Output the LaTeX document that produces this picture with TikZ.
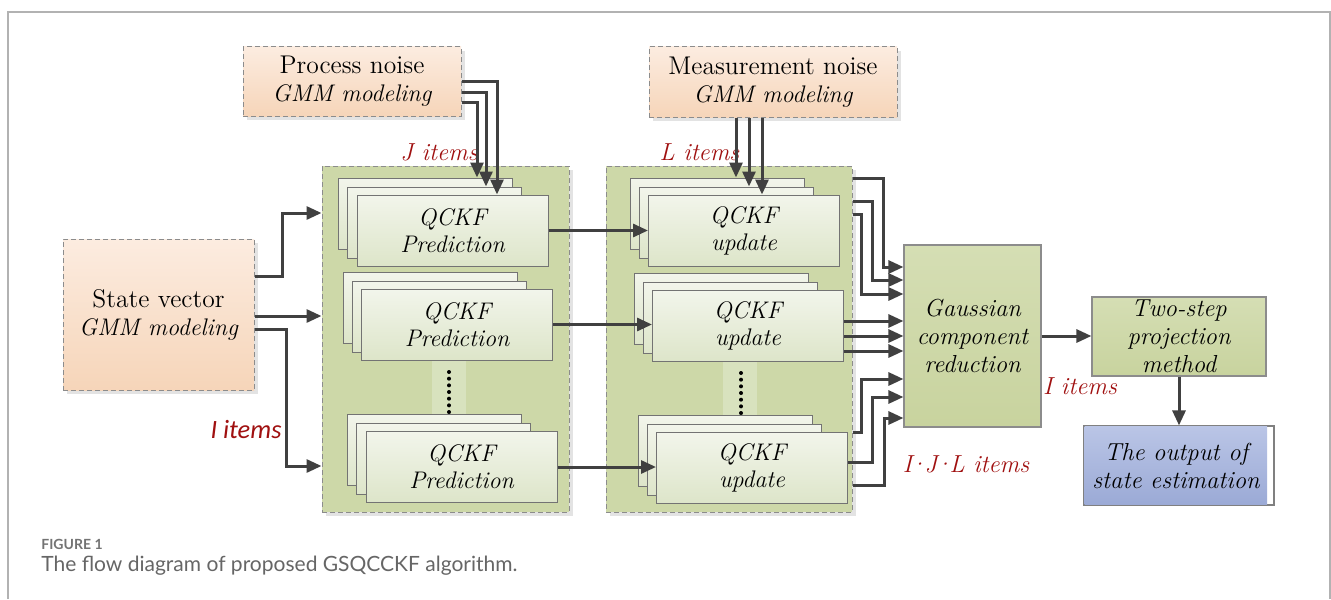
\documentclass[tikz,border=0pt]{standalone}
\usepackage{fontspec}
\newfontfamily\capfont{Lato}
\newfontfamily\calfont{Carlito}
\usetikzlibrary{arrows.meta,shadows}
\definecolor{peachT}{RGB}{252,236,224}
\definecolor{peachB}{RGB}{246,213,185}
\definecolor{contC}{RGB}{205,216,168}
\definecolor{stripeC}{RGB}{216,226,190}
\definecolor{cardT}{RGB}{242,245,235}
\definecolor{cardB}{RGB}{221,229,201}
\definecolor{gT}{RGB}{213,222,180}
\definecolor{gB}{RGB}{200,211,158}
\definecolor{bT}{RGB}{186,197,230}
\definecolor{bB}{RGB}{155,170,214}
\definecolor{arrC}{RGB}{64,64,64}
\definecolor{redC}{RGB}{160,16,16}
\newcommand\upfont{\fontsize{12.8}{14}\selectfont\upshape}
\newcommand\itfont{\fontsize{12}{14}\selectfont\itshape}
\tikzset{
  txt/.style={font=\fontsize{12}{14}\selectfont, align=center, inner sep=0pt},
  shadowed/.style={drop shadow={shadow xshift=2.2pt, shadow yshift=-2.2pt, fill=black!11, opacity=1}},
  noisebox/.style={draw=black!45, dash pattern=on 2.5pt off 1.5pt, line width=0.5pt, top color=peachT, bottom color=peachB, txt, shadowed},
  contbox/.style={draw=black!45, dash pattern=on 2.5pt off 1.5pt, line width=0.5pt, fill=contC, inner sep=0pt, shadowed},
  card/.style={draw=black!55, line width=0.5pt, top color=cardT, bottom color=cardB, inner sep=0pt, minimum height=35.5pt},
  greenbox/.style={draw=black!45, line width=0.6pt, top color=gT, bottom color=gB, txt, font=\fontsize{12.3}{14}\selectfont\itshape},
  arr/.style={draw=arrC, line width=1.5pt, -{Triangle[length=7.5pt,width=6.5pt]}},
  lbl/.style={text=redC, font=\fontsize{12.3}{14}\selectfont\itshape, inner sep=0pt},
}
\newcommand\qstack[4]{%
  \node[card, minimum width=87pt] (#1b) at ({#2-27},{#3-17}) {};
  \node[card, minimum width=87pt] (#1m) at ({#2-18},{#3-8}) {};
  \node[card, minimum width=95.5pt, align=center, font=\fontsize{12}{13.5}\selectfont\itshape] (#1) at (#2,#3) {#4};
}
\begin{document}
\begin{tikzpicture}[x=0.5pt,y=-0.5pt]
\useasboundingbox (0,0) rectangle (1331,599);
\fill[white] (0,0) rectangle (1331,599);
\draw[black!30, line width=1pt] (7.5,599) -- (7.5,12.5) -- (1330,12.5) -- (1330,599);

% containers
\node[contbox, minimum width=123.5pt, minimum height=173pt] (L) at (445.5,339) {};
\node[contbox, minimum width=123pt, minimum height=173pt] (R) at (729,339) {};
\fill[stripeC] (432,360) rectangle (466,415);
\fill[stripeC] (723,360) rectangle (757,415);
\foreach \k in {0,...,6} {
  \fill[black] (449,{372+\k*6.67}) circle (1pt);
  \fill[black] (741,{373+\k*6.67}) circle (1pt);
}

% noise and state boxes
\node[noisebox, minimum width=109pt, minimum height=34.5pt] (PN) at (352,81.5) {\upfont Process noise\\ \itfont GMM modeling};
\node[noisebox, minimum width=124pt, minimum height=35pt] (MN) at (773,82) {\upfont Measurement noise\\ \itfont GMM modeling};
\node[noisebox, minimum width=95.5pt, minimum height=75.5pt] (S) at (158.5,314.5) {\upfont State vector\\ \itfont GMM modeling};

% stacks
\qstack{P1}{452.5}{230.5}{QCKF\\Prediction}
\qstack{P2}{457}{324.5}{QCKF\\Prediction}
\qstack{P3}{461.5}{467}{QCKF\\Prediction}
\qstack{U1}{744}{230.5}{QCKF\\update}
\qstack{U2}{748}{326}{QCKF\\update}
\qstack{U3}{752}{468}{QCKF\\update}

% right boxes
\node[greenbox, minimum width=68.5pt, minimum height=91pt] (G) at (972.5,336) {Gaussian\\component\\reduction};
\node[greenbox, minimum width=87pt, minimum height=39.5pt] (T) at (1179,336.5) {Two-step\\projection\\method};
\node[draw=black!50, line width=0.6pt, fill=white, minimum width=95pt, minimum height=39.5pt, inner sep=0pt] (O) at (1179,465.5) {};
\shade[top color=bT, bottom color=bB] (1084.5,426.5) rectangle (1267,504.5);
\node[txt, font=\fontsize{12.3}{14}\selectfont\itshape] (Otxt) at (1176,465.5) {The output of\\state estimation};

% labels
\node[lbl] (lj) at (439,152) {J items};
\node[lbl] (ll) at (699.5,152) {L items};
\node[text=redC, font=\calfont\itshape\fontsize{13.2}{15}\selectfont, inner sep=0pt] (li1) at (246,430) {I items};
\node[lbl] (li2) at (1080,386) {I items};
\node[lbl] (lijl) at (966,464) {I\kern-1.6pt·\kern-1.4pt J\kern-1.4pt·\kern-1.6pt L items};

% arrows: state -> prediction
\draw[arr] (S.east |- 0,276) -- (282,276) |- (L.west |- 0,213);
\draw[arr] (S.east |- 0,316) -- (L.west |- 0,316);
\draw[arr] (S.east |- 0,329) -- (286,329) |- (L.west |- 0,466);

% process noise -> prediction
\draw[arr] (PN.east |- 0,82) -| (P1.north -| 497,0);
\draw[arr] (PN.east |- 0,93) -| (P1m.north -| 486,0);
\draw[arr] (PN.east |- 0,103) -| (P1b.north -| 477,0);

% measurement noise -> update
\draw[arr] (MN.south -| 736,0) -- (U1b.north -| 736,0);
\draw[arr] (MN.south -| 749,0) -- (U1m.north -| 749,0);
\draw[arr] (MN.south -| 762,0) -- (U1.north -| 762,0);

% prediction -> update
\draw[arr] (P1.east) -- (U1.west);
\draw[arr] (P2.east) -- (U2.west |- P2.east);
\draw[arr] (P3.east) -- (U3.west |- P3.east);

% update -> Gaussian
\draw[arr] (R.east |- 0,178) -| (883,267) -- (G.west |- 0,267);
\draw[arr] (R.east |- 0,201) -| (872,280) -- (G.west |- 0,280);
\draw[arr] (R.east |- 0,214) -| (861,294) -- (G.west |- 0,294);
\draw[arr] (U2.east |- 0,321) -- (G.west |- 0,321);
\draw[arr] (U2.east |- 0,336) -- (G.west |- 0,336);
\draw[arr] (U2.east |- 0,351) -- (G.west |- 0,351);
\draw[arr] (R.east |- 0,432) -| (861,379) -- (G.west |- 0,379);
\draw[arr] (U3.east |- 0,462) -| (872,397) -- (G.west |- 0,397);
\draw[arr] (R.east |- 0,485) -| (884,418) -- (G.west |- 0,418);

% Gaussian -> two-step -> output
\draw[arr] (G.east) -- (T.west |- G.east);
\draw[arr] (T.south) -- (O.north);

% caption
\node[anchor=west, inner sep=0pt, text=black!55, font=\capfont\bfseries\fontsize{7}{8}\selectfont] (fig) at (41,544) {FIGURE 1};
\node[anchor=west, inner sep=0pt, text=black!60, font=\capfont\fontsize{10.5}{12}\selectfont] (cap) at (41,566) {The flow diagram of proposed GSQCCKF algorithm.};
\end{tikzpicture}
\end{document}
